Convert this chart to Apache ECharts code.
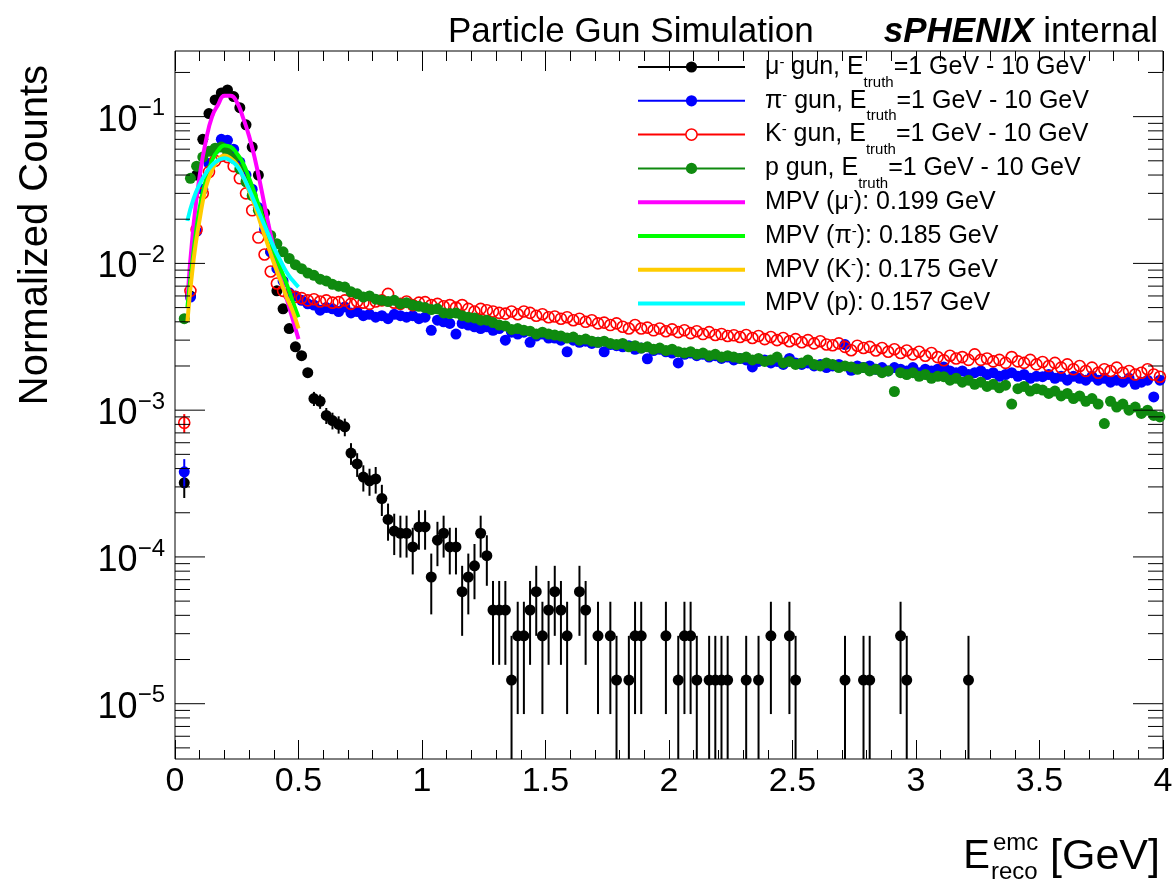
<!DOCTYPE html>
<html><head><meta charset="utf-8">
<script src="https://cdn.jsdelivr.net/npm/echarts@6/dist/echarts.min.js"></script>
<style>html,body{margin:0;padding:0;background:#fff}#c{width:1172px;height:883px}</style>
</head><body><div id="c"></div>
<script>
// ---------- data ----------
const binCenters = [
0.0125,0.0375,0.0625,0.0875,0.1125,0.1375,0.1625,0.1875,0.2125,0.2375,
0.2625,0.2875,0.3125,0.3375,0.3625,0.3875,0.4125,0.4375,0.4625,0.4875,
0.5125,0.5375,0.5625,0.5875,0.6125,0.6375,0.6625,0.6875,0.7125,0.7375,
0.7625,0.7875,0.8125,0.8375,0.8625,0.8875,0.9125,0.9375,0.9625,0.9875,
1.0125,1.0375,1.0625,1.0875,1.1125,1.1375,1.1625,1.1875,1.2125,1.2375,
1.2625,1.2875,1.3125,1.3375,1.3625,1.3875,1.4125,1.4375,1.4625,1.4875,
1.5125,1.5375,1.5625,1.5875,1.6125,1.6375,1.6625,1.6875,1.7125,1.7375,
1.7625,1.7875,1.8125,1.8375,1.8625,1.8875,1.9125,1.9375,1.9625,1.9875,
2.0125,2.0375,2.0625,2.0875,2.1125,2.1375,2.1625,2.1875,2.2125,2.2375,
2.2625,2.2875,2.3125,2.3375,2.3625,2.3875,2.4125,2.4375,2.4625,2.4875,
2.5125,2.5375,2.5625,2.5875,2.6125,2.6375,2.6625,2.6875,2.7125,2.7375,
2.7625,2.7875,2.8125,2.8375,2.8625,2.8875,2.9125,2.9375,2.9625,2.9875,
3.0125,3.0375,3.0625,3.0875,3.1125,3.1375,3.1625,3.1875,3.2125,3.2375,
3.2625,3.2875,3.3125,3.3375,3.3625,3.3875,3.4125,3.4375,3.4625,3.4875,
3.5125,3.5375,3.5625,3.5875,3.6125,3.6375,3.6625,3.6875,3.7125,3.7375,
3.7625,3.7875,3.8125,3.8375,3.8625,3.8875,3.9125,3.9375,3.9625,3.9875];

const muVal = [
null,3.2e-4,6.0e-3,4.0e-2,7.0e-2,1.05e-1,1.30e-1,1.45e-1,1.52e-1,1.37e-1,
1.15e-1,8.8e-2,6.2e-2,4.0e-2,2.2e-2,1.2e-2,6.5e-3,4.9e-3,3.6e-3,2.7e-3,
2.35e-3,1.8e-3,1.2e-3,1.15e-3,9.2e-4,8.5e-4,8.0e-4,7.7e-4,5.1e-4,4.3e-4,
3.5e-4,3.3e-4,3.4e-4,2.5e-4,1.8e-4,1.5e-4,1.45e-4,1.45e-4,1.17e-4,1.6e-4,
1.6e-4,7.3e-5,1.3e-4,1.45e-4,1.17e-4,1.17e-4,5.8e-5,7.3e-5,8.7e-5,1.45e-4,
1.02e-4,4.35e-5,4.35e-5,4.35e-5,1.45e-5,2.9e-5,2.9e-5,4.35e-5,5.8e-5,2.9e-5,
4.35e-5,5.8e-5,4.35e-5,2.9e-5,null,5.8e-5,4.35e-5,null,2.9e-5,null,
2.9e-5,1.45e-5,null,1.45e-5,2.9e-5,2.9e-5,null,null,null,2.9e-5,
null,1.45e-5,2.9e-5,2.9e-5,1.45e-5,null,1.45e-5,1.45e-5,1.45e-5,1.45e-5,
null,null,1.45e-5,null,1.45e-5,null,2.9e-5,null,null,2.9e-5,
1.45e-5,null,null,null,null,null,null,null,1.45e-5,null,
null,1.45e-5,1.45e-5,null,null,null,null,2.9e-5,1.45e-5,null,
null,null,null,null,null,null,null,null,1.45e-5,null,
null,null,null,null,null,null,null,null,null,null,
null,null,null,null,null,null,null,null,null,null,
null,null,null,null,null,null,null,null,null,null];

// [bin index, error] for the bins whose error bar is visible
const muErr = [[1,6.8e-5],[22,1.32e-4],[23,1.29e-4],[24,1.15e-4],[25,1.11e-4],[26,1.08e-4],[27,1.06e-4],
[28,8.6e-5],[29,7.9e-5],[30,7.1e-5],[31,6.9e-5],[32,7.0e-5],[33,6.0e-5],[34,5.1e-5],[35,4.7e-5],
[36,4.6e-5],[37,4.6e-5],[38,4.1e-5],[39,4.8e-5],[40,4.8e-5],[41,3.24e-5],[42,4.35e-5],[43,4.6e-5],
[44,4.1e-5],[45,4.1e-5],[46,2.9e-5],[47,3.24e-5],[48,3.55e-5],[49,4.6e-5],[50,3.84e-5],[51,2.51e-5],
[52,2.51e-5],[53,2.51e-5],[54,1.45e-5],[55,2.05e-5],[56,2.05e-5],[57,2.51e-5],[58,2.9e-5],[59,2.05e-5],
[60,2.51e-5],[61,2.9e-5],[62,2.51e-5],[63,2.05e-5],[65,2.9e-5],[66,2.51e-5],[68,2.05e-5],[70,2.05e-5],
[71,1.45e-5],[73,1.45e-5],[74,2.05e-5],[75,2.05e-5],[79,2.05e-5],[81,1.45e-5],[82,2.05e-5],[83,2.05e-5],
[84,1.45e-5],[86,1.45e-5],[87,1.45e-5],[88,1.45e-5],[89,1.45e-5],[92,1.45e-5],[94,1.45e-5],[96,2.05e-5],
[99,2.05e-5],[100,1.45e-5],[108,1.45e-5],[111,1.45e-5],[112,1.45e-5],[117,2.05e-5],[118,1.45e-5],[128,1.45e-5]];

const piVal = [
null,3.8e-4,5.9e-3,1.65e-2,3.2e-2,4.8e-2,6.0e-2,7.0e-2,6.9e-2,6.0e-2,
4.9e-2,4.0e-2,3.2e-2,2.4e-2,1.7e-2,1.2e-2,9.2e-3,7.6e-3,6.3e-3,6.0e-3,
5.6e-3,5.3e-3,5.2e-3,4.8e-3,5.0e-3,4.9e-3,4.7e-3,5.05e-3,4.6e-3,4.7e-3,
4.4e-3,4.5e-3,4.3e-3,4.4e-3,4.2e-3,4.5e-3,4.4e-3,4.3e-3,4.4e-3,4.2e-3,
4.3e-3,3.5e-3,4.1e-3,4.0e-3,3.9e-3,3.3e-3,3.9e-3,3.8e-3,3.7e-3,3.6e-3,
3.7e-3,3.5e-3,3.6e-3,3.0e-3,3.4e-3,3.3e-3,3.4e-3,2.9e-3,3.2e-3,3.3e-3,
3.1e-3,3.1e-3,3.0e-3,2.5e-3,3.0e-3,2.9e-3,2.95e-3,2.85e-3,2.9e-3,2.5e-3,
2.8e-3,2.75e-3,2.7e-3,2.75e-3,2.6e-3,2.65e-3,2.24e-3,2.55e-3,2.6e-3,2.5e-3,
2.45e-3,2.1e-3,2.4e-3,2.45e-3,2.35e-3,2.4e-3,2.3e-3,2.35e-3,2.25e-3,2.3e-3,
2.2e-3,2.25e-3,2.2e-3,1.97e-3,2.15e-3,2.2e-3,2.1e-3,2.15e-3,2.05e-3,2.25e-3,
2.1e-3,2.05e-3,2.1e-3,2.0e-3,2.05e-3,1.95e-3,2.0e-3,2.05e-3,2.8e-3,1.87e-3,
2.0e-3,1.95e-3,2.0e-3,1.9e-3,1.95e-3,1.85e-3,1.95e-3,1.9e-3,1.85e-3,1.95e-3,
1.8e-3,1.9e-3,1.85e-3,1.9e-3,1.97e-3,1.85e-3,1.8e-3,1.85e-3,1.75e-3,1.8e-3,
1.85e-3,1.75e-3,1.8e-3,1.7e-3,1.75e-3,1.8e-3,1.7e-3,1.75e-3,1.65e-3,1.7e-3,
1.69e-3,1.75e-3,1.65e-3,1.7e-3,1.6e-3,1.7e-3,1.65e-3,1.6e-3,1.7e-3,1.6e-3,
1.65e-3,1.55e-3,1.6e-3,1.55e-3,1.65e-3,1.5e-3,1.55e-3,1.6e-3,1.23e-3,1.6e-3];
const piErr = [[1,8.4e-5]];

const kVal = [
null,8.2e-4,6.5e-3,1.7e-2,3.0e-2,4.2e-2,5.0e-2,5.4e-2,5.3e-2,4.6e-2,
3.8e-2,3.0e-2,2.3e-2,1.5e-2,1.15e-2,8.8e-3,7.3e-3,6.5e-3,6.1e-3,5.9e-3,
5.8e-3,5.6e-3,5.7e-3,5.5e-3,5.6e-3,5.4e-3,5.45e-3,5.6e-3,5.3e-3,5.5e-3,
5.4e-3,5.3e-3,5.5e-3,5.6e-3,6.2e-3,5.4e-3,5.3e-3,5.5e-3,5.2e-3,5.4e-3,
5.45e-3,5.2e-3,5.3e-3,5.1e-3,5.2e-3,5.0e-3,5.2e-3,4.9e-3,4.7e-3,4.9e-3,
4.8e-3,4.7e-3,4.6e-3,4.55e-3,4.7e-3,4.5e-3,4.7e-3,4.6e-3,4.4e-3,4.5e-3,
4.3e-3,4.35e-3,4.2e-3,4.3e-3,4.1e-3,4.2e-3,4.0e-3,4.1e-3,3.9e-3,3.95e-3,
3.8e-3,3.9e-3,3.7e-3,3.6e-3,3.8e-3,3.6e-3,3.65e-3,3.5e-3,3.6e-3,3.45e-3,
3.55e-3,3.4e-3,3.5e-3,3.35e-3,3.45e-3,3.3e-3,3.4e-3,3.25e-3,3.3e-3,3.2e-3,
3.24e-3,3.15e-3,3.25e-3,3.1e-3,3.2e-3,3.05e-3,3.15e-3,3.0e-3,3.1e-3,2.95e-3,
3.05e-3,2.9e-3,3.0e-3,2.85e-3,2.95e-3,2.8e-3,2.77e-3,2.85e-3,2.7e-3,2.56e-3,
2.75e-3,2.65e-3,2.7e-3,2.55e-3,2.65e-3,2.5e-3,2.6e-3,2.45e-3,2.55e-3,2.4e-3,
2.5e-3,2.35e-3,2.45e-3,2.3e-3,2.19e-3,2.35e-3,2.25e-3,2.3e-3,2.2e-3,2.4e-3,
2.2e-3,2.25e-3,2.15e-3,2.2e-3,2.1e-3,2.3e-3,2.15e-3,2.1e-3,2.2e-3,2.05e-3,
2.13e-3,2.0e-3,2.1e-3,1.95e-3,2.05e-3,1.9e-3,2.0e-3,1.85e-3,1.95e-3,1.8e-3,
1.9e-3,1.85e-3,1.95e-3,1.8e-3,1.85e-3,1.75e-3,1.8e-3,1.9e-3,1.75e-3,1.69e-3];
const kErr = [[1,1.2e-4]];

const pVal = [
null,4.2e-3,3.8e-2,4.6e-2,5.3e-2,5.8e-2,6.1e-2,6.2e-2,5.8e-2,5.2e-2,
4.4e-2,3.6e-2,2.9e-2,2.3e-2,1.85e-2,1.55e-2,1.36e-2,1.2e-2,1.08e-2,9.8e-3,
9.2e-3,8.6e-3,8.3e-3,7.8e-3,7.6e-3,7.2e-3,7.0e-3,6.9e-3,6.4e-3,6.2e-3,
5.9e-3,6.0e-3,5.7e-3,5.6e-3,5.5e-3,5.6e-3,5.3e-3,5.4e-3,5.2e-3,5.1e-3,
5.0e-3,4.85e-3,4.9e-3,4.6e-3,4.55e-3,4.6e-3,4.4e-3,4.3e-3,4.25e-3,4.1e-3,
4.1e-3,3.95e-3,3.8e-3,3.75e-3,3.55e-3,3.6e-3,3.5e-3,3.45e-3,3.3e-3,3.4e-3,
3.3e-3,3.25e-3,3.2e-3,3.1e-3,3.15e-3,3.0e-3,3.05e-3,2.95e-3,2.9e-3,2.95e-3,
2.85e-3,2.8e-3,2.85e-3,2.7e-3,2.75e-3,2.65e-3,2.7e-3,2.6e-3,2.65e-3,2.55e-3,
2.6e-3,2.5e-3,2.45e-3,2.5e-3,2.4e-3,2.45e-3,2.35e-3,2.4e-3,2.3e-3,2.35e-3,
2.3e-3,2.25e-3,2.3e-3,2.2e-3,2.25e-3,2.15e-3,2.2e-3,2.3e-3,2.1e-3,2.15e-3,
2.05e-3,2.1e-3,2.2e-3,2.05e-3,2.0e-3,2.1e-3,2.05e-3,1.95e-3,2.0e-3,1.97e-3,
1.9e-3,1.95e-3,1.85e-3,1.9e-3,1.8e-3,1.85e-3,1.34e-3,1.8e-3,1.75e-3,1.8e-3,
1.7e-3,1.75e-3,1.65e-3,1.7e-3,1.69e-3,1.6e-3,1.65e-3,1.55e-3,1.6e-3,1.5e-3,
1.55e-3,1.45e-3,1.5e-3,1.42e-3,1.48e-3,1.1e-3,1.4e-3,1.45e-3,1.35e-3,1.4e-3,
1.37e-3,1.3e-3,1.35e-3,1.25e-3,1.3e-3,1.2e-3,1.25e-3,1.15e-3,1.2e-3,1.1e-3,
8.1e-4,1.15e-3,1.05e-3,1.1e-3,1.0e-3,1.05e-3,9.5e-4,1.0e-3,9.2e-4,9.0e-4];

// fitted curves (Landau MPV fits)
const fitX  = [0.05,0.075,0.1,0.125,0.15,0.175,0.2,0.225,0.25,0.275,0.3,0.325,0.35,0.375,0.4,0.425,0.45,0.475,0.5];
const fitMu = [5.6e-3,1.82e-2,3.97e-2,6.84e-2,1.0e-1,1.21e-1,1.39e-1,1.39e-1,1.26e-1,9.89e-2,7.36e-2,5.03e-2,3.18e-2,1.96e-2,1.26e-2,8.4e-3,5.9e-3,4.25e-3,3.05e-3];
const fitPi = [5.0e-3,1.2e-2,2.4e-2,3.7e-2,5.05e-2,5.9e-2,6.37e-2,6.24e-2,5.62e-2,4.84e-2,3.8e-2,2.92e-2,2.19e-2,1.62e-2,1.22e-2,9.4e-3,7.4e-3,5.6e-3,4.3e-3];
const fitK  = [4.0e-3,1.05e-2,2.0e-2,3.3e-2,4.32e-2,5.07e-2,5.43e-2,5.19e-2,4.73e-2,3.94e-2,3.13e-2,2.42e-2,1.8e-2,1.35e-2,1.01e-2,7.8e-3,6.0e-3,4.8e-3,3.6e-3];
const fitP  = [1.95e-2,2.75e-2,3.47e-2,4.12e-2,4.68e-2,5.04e-2,5.21e-2,5.01e-2,4.62e-2,3.94e-2,3.2e-2,2.55e-2,2.03e-2,1.62e-2,1.29e-2,1.06e-2,8.8e-3,7.7e-3,6.9e-3];

const xTicks = [0,0.5,1,1.5,2,2.5,3,3.5,4];
const yMajor = [1e-5,1e-4,1e-3,1e-2,1e-1];
const yMinorMult = [2,3,4,5,6,7,8,9];

const legendLabels = {
  mu:  '{t|μ}{sp|-}{t| gun, E}{sb|truth}{t|=1 GeV - 10 GeV}',
  pi:  '{t|π}{sp|-}{t| gun, E}{sb|truth}{t|=1 GeV - 10 GeV}',
  K:   '{t|K}{sp|-}{t| gun, E}{sb|truth}{t|=1 GeV - 10 GeV}',
  p:   '{t|p gun, E}{sb|truth}{t|=1 GeV - 10 GeV}',
  fmu: '{t|MPV (μ}{sp|-}{t|): 0.199 GeV}{sb| }',
  fpi: '{t|MPV (π}{sp|-}{t|): 0.185 GeV}{sb| }',
  fK:  '{t|MPV (K}{sp|-}{t|): 0.175 GeV}{sb| }',
  fp:  '{t|MPV (p): 0.157 GeV}{sb| }'
};

// ---------- chart ----------
const FONT = "'Liberation Sans', Arial, Helvetica, sans-serif";
const X_MIN = 0, X_MAX = 4, Y_MIN = 4.2e-6, Y_MAX = 0.28;

function pairs(vals){ return binCenters.map((x,i)=>[x, vals[i]]); }
function errData(vals, errs){ return errs.map(e=>[binCenters[e[0]], vals[e[0]]-e[1], vals[e[0]]+e[1]]); }
function errRender(color){
  return function(params, api){
    const x = api.value(0);
    const lo = Math.max(api.value(1), Y_MIN);
    const hi = api.value(2);
    const a = api.coord([x, lo]), b = api.coord([x, hi]);
    return {type:'line', shape:{x1:a[0], y1:a[1], x2:b[0], y2:b[1]}, style:{stroke:color, lineWidth:2}};
  };
}
const yTickData = [];
yMajor.forEach(v=>yTickData.push([X_MIN, v, 1]));
[1e-6,1e-5,1e-4,1e-3,1e-2,1e-1].forEach(d=>yMinorMult.forEach(m=>{
  const v = d*m; if (v > Y_MIN && v < Y_MAX) yTickData.push([X_MIN, v, 0]);
}));
function tickRender(params, api){
  const v = api.value(1), L = api.value(2) ? 30 : 15;
  const a = api.coord([X_MIN, v]), b = api.coord([X_MAX, v]);
  return {type:'group', children:[
    {type:'line', shape:{x1:a[0], y1:a[1], x2:a[0]+L, y2:a[1]}, style:{stroke:'#000', lineWidth:1}},
    {type:'line', shape:{x1:b[0]-L, y1:b[1], x2:b[0], y2:b[1]}, style:{stroke:'#000', lineWidth:1}}
  ]};
}

function dataSeries(name, vals, color, hollow, z){
  return {
    name, type:'line', data: pairs(vals), xAxisIndex:0, yAxisIndex:0,
    symbol:'circle', symbolSize: 11, showAllSymbol:true,
    itemStyle: hollow ? {color:'rgba(255,255,255,0)', borderColor:color, borderWidth:1.6} : {color:color},
    lineStyle:{width:0, opacity:0}, connectNulls:false,
    silent:true, emphasis:{disabled:true}, z
  };
}
function fitSeries(name, vals, color, z){
  return {
    name, type:'line', data: fitX.map((x,i)=>[x, vals[i]]), smooth:true, symbol:'none',
    lineStyle:{color, width:4}, itemStyle:{color}, silent:true, emphasis:{disabled:true}, z
  };
}
function errSeries(name, vals, errs, color, z){
  return {name, type:'custom', data: errData(vals, errs), renderItem: errRender(color),
    encode:{x:0, y:[1,2]}, silent:true, z};
}

const chart = echarts.init(document.getElementById('c'), null, {renderer:'canvas'});
chart.setOption({
  animation:false,
  backgroundColor:'#fff',
  textStyle:{fontFamily:FONT},
  grid:{left:175, top:51, right:9, bottom:124, show:true, borderColor:'#000', borderWidth:1, backgroundColor:'transparent', outerBoundsMode:'none'},
  title:{
    text:'{n|Particle Gun Simulation}{b|sPHENIX}{n| internal}',
    right:9, top:10,
    textStyle:{fontWeight:'normal', rich:{
      n:{fontSize:35, fontFamily:FONT, color:'#000', fontWeight:'normal'},
      b:{fontSize:35, fontFamily:FONT, color:'#000', fontWeight:'bold', fontStyle:'italic', padding:[0,0,0,70]}
    }}
  },
  legend:{
    orient:'vertical', left:631, top:40, itemWidth:107, itemHeight:14, itemGap:-11.2,
    selectedMode:false,
    formatter: name => legendLabels[name],
    textStyle:{padding:[0,0,0,15], rich:{
      t:{fontSize:25, lineHeight:44, verticalAlign:'middle', fontFamily:FONT, color:'#000'},
      sb:{fontSize:15, lineHeight:14, padding:[30,0,0,0], verticalAlign:'top', fontFamily:FONT, color:'#000'},
      sp:{fontSize:15, lineHeight:14, padding:[10,0,0,0], verticalAlign:'top', fontFamily:FONT, color:'#000'}
    }},
    data:[
      {name:'mu', itemStyle:{color:'#000', opacity:1}, lineStyle:{color:'#000', width:2, opacity:1}},
      {name:'pi', itemStyle:{color:'#0000ff', opacity:1}, lineStyle:{color:'#0000ff', width:2, opacity:1}},
      {name:'K', itemStyle:{color:'#fff', borderColor:'#ff0000', borderWidth:1.5, opacity:1}, lineStyle:{color:'#ff0000', width:2, opacity:1}},
      {name:'p', itemStyle:{color:'#0f8a0f', opacity:1}, lineStyle:{color:'#0f8a0f', width:2, opacity:1}},
      {name:'fmu', itemStyle:{opacity:0}, lineStyle:{color:'#ff00ff', width:4, opacity:1}},
      {name:'fpi', itemStyle:{opacity:0}, lineStyle:{color:'#00ff00', width:4, opacity:1}},
      {name:'fK', itemStyle:{opacity:0}, lineStyle:{color:'#ffcc00', width:4, opacity:1}},
      {name:'fp', itemStyle:{opacity:0}, lineStyle:{color:'#00ffff', width:4, opacity:1}}
    ]
  },
  xAxis:[
    {type:'value', min:X_MIN, max:X_MAX, interval:0.5, position:'bottom',
     axisLine:{show:false}, splitLine:{show:false},
     axisTick:{show:true, inside:true, length:19, lineStyle:{color:'#000', width:1}},
     minorTick:{show:true, splitNumber:5, length:9, lineStyle:{color:'#000', width:1}},
     axisLabel:{show:true, margin:6, fontSize:34, color:'#000', fontFamily:FONT,
       formatter: v => { const i = xTicks.indexOf(v); return i >= 0 ? String(xTicks[i]) : ''; }}},
    {type:'value', min:X_MIN, max:X_MAX, interval:0.5, position:'top',
     axisLine:{show:false}, splitLine:{show:false}, axisLabel:{show:false},
     axisTick:{show:true, inside:true, length:20, lineStyle:{color:'#000', width:1}},
     minorTick:{show:true, splitNumber:5, length:10, lineStyle:{color:'#000', width:1}}}
  ],
  yAxis:[
    {type:'log', logBase:10, min:Y_MIN, max:Y_MAX, position:'left',
     axisLine:{show:false}, axisTick:{show:false}, splitLine:{show:false}, minorTick:{show:false},
     axisLabel:{show:true, margin:10, color:'#000',
       formatter: v => {
         const e = Math.log10(v), r = Math.round(e);
         if (Math.abs(e - r) > 1e-6) return '';
         return '{b|10}{s|−' + (-r) + '}';
       },
       rich:{
         b:{fontSize:36, lineHeight:40, padding:[6,0,0,0], verticalAlign:'top', fontFamily:FONT, color:'#000'},
         s:{fontSize:24, lineHeight:22, verticalAlign:'top', fontFamily:FONT, color:'#000'}
       }}}
  ],
  graphic:[
    {type:'text', x:36, y:65, rotation:Math.PI/2, silent:true,
     style:{text:'Normalized Counts', fontSize:40, fontFamily:FONT, fill:'#000', align:'right', verticalAlign:'middle'}},
    {type:'text', x:990, y:857, silent:true, style:{text:'E', fontSize:40, fontFamily:FONT, fill:'#000', align:'right', verticalAlign:'middle'}},
    {type:'text', x:993, y:843, silent:true, style:{text:'emc', fontSize:24, fontFamily:FONT, fill:'#000', align:'left', verticalAlign:'middle'}},
    {type:'text', x:991, y:872, silent:true, style:{text:'reco', fontSize:24, fontFamily:FONT, fill:'#000', align:'left', verticalAlign:'middle'}},
    {type:'text', x:1160, y:857, silent:true, style:{text:'[GeV]', fontSize:43, fontFamily:FONT, fill:'#000', align:'right', verticalAlign:'middle'}}
  ],
  series:[
    {name:'yticks', type:'custom', data:yTickData, renderItem:tickRender, encode:{x:0, y:1}, silent:true, z:20, clip:false},
    errSeries('muErr', muVal, muErr, '#000', 2),
    dataSeries('mu', muVal, '#000', false, 3),
    errSeries('piErr', piVal, piErr, '#0000ff', 4),
    dataSeries('pi', piVal, '#0000ff', false, 5),
    errSeries('kErr', kVal, kErr, '#ff0000', 6),
    dataSeries('K', kVal, '#ff0000', true, 7),
    dataSeries('p', pVal, '#0f8a0f', false, 8),
    fitSeries('fmu', fitMu, '#ff00ff', 9),
    fitSeries('fpi', fitPi, '#00ff00', 10),
    fitSeries('fK', fitK, '#ffcc00', 11),
    fitSeries('fp', fitP, '#00ffff', 12)
  ]
});
</script></body></html>
